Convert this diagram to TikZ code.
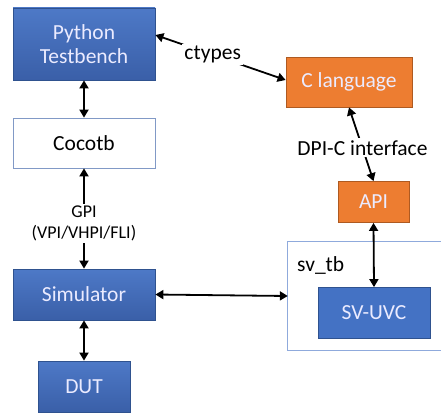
\documentclass[tikz,border=0pt]{standalone}
\usepackage{fontspec}
\setmainfont{Carlito}
\usetikzlibrary{arrows.meta,calc}
\definecolor{boxblue}{HTML}{4472C4}
\definecolor{boxbluedark}{HTML}{3A5FA8}
\definecolor{edgeblue}{HTML}{2F528F}
\definecolor{boxorange}{HTML}{ED7D31}
\definecolor{edgeorange}{HTML}{AE5A21}
\definecolor{frameblue}{HTML}{8FAADC}
\begin{document}
\begin{tikzpicture}[x=1pt,y=-1pt,
  every node/.style={font=\fontsize{21.5}{24}\selectfont, inner sep=0pt},
  blockbase/.style={rectangle, align=center, text=white!92!blue, line width=0.8pt},
  bluegrad/.style={blockbase, draw=edgeblue, top color=boxblue!95!white, bottom color=boxbluedark},
  blueflat/.style={blockbase, draw=edgeblue, fill=boxblue},
  orangebox/.style={blockbase, draw=edgeorange, fill=boxorange},
  whitebox/.style={rectangle, align=center, draw=frameblue!90!black, line width=0.8pt, fill=white},
  link/.style={line width=1.8pt, {Triangle[length=8pt,width=9pt]}-{Triangle[length=8pt,width=9pt]}},
  tag/.style={fill=white, inner sep=2pt, align=center}]
\useasboundingbox (0,0) rectangle (441,417);

% left column: Python side down to the DUT
\node[bluegrad, minimum width=142pt, minimum height=72pt] (py) at (84,44) {Python\\Testbench};
\node[whitebox, minimum width=142pt, minimum height=50pt] (coco) at (84,143) {Cocotb};
\node[bluegrad, minimum width=142pt, minimum height=51pt] (sim) at (84,294.5) {Simulator};
\node[bluegrad, minimum width=92pt, minimum height=51pt] (dut) at (84,386.5) {DUT};

% right column: C side down to the SystemVerilog testbench
\node[orangebox, minimum width=126pt, minimum height=50pt] (clang) at (349,82) {C language};
\node[orangebox, minimum width=71pt, minimum height=41pt] (api) at (373.5,202) {API};
\node[minimum width=157pt, minimum height=108pt] (svtb) at (366.5,296) {};
\draw[frameblue, line width=0.8pt] (svtb.north east) -- (svtb.north west) -- (svtb.south west) -- (svtb.south east);
\node[anchor=west] (svtblabel) at (297,265) {sv\_tb};
\node[blueflat, minimum width=112pt, minimum height=51pt] (uvc) at (374,313) {SV-UVC};

% connections
\draw[link] ([yshift=9pt]py.east) -- node[tag, pos=0.44] {ctypes} ([yshift=2pt]clang.west);
\draw[link] (py.south) -- (coco.north);
\draw[link] (coco.south) -- node[tag, pos=0.55, font=\fontsize{18}{21}\selectfont] {GPI\\(VPI/VHPI/FLI)} (sim.north);
\draw[link] (sim.south) -- (dut.north);
\draw[link] (sim.east) -- (svtb.west);
\draw[link] (clang.south) -- node[tag, pos=0.55] {DPI-C interface} (api.north);
\draw[link] (api.south) -- (uvc.north);
\end{tikzpicture}
\end{document}
